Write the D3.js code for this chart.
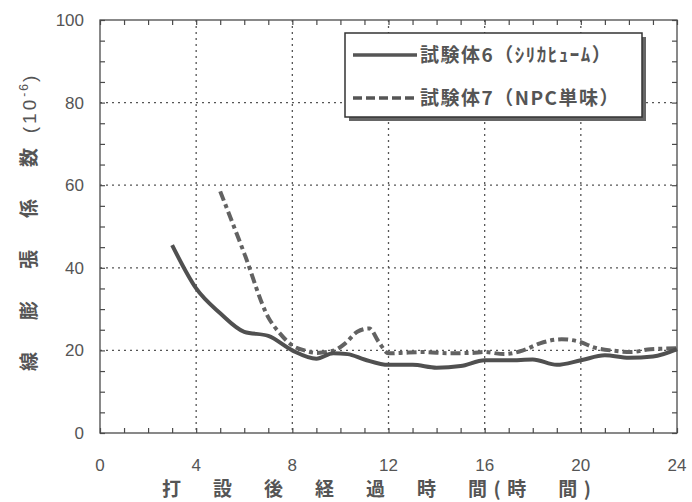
<!DOCTYPE html>
<html>
<head>
<meta charset="utf-8">
<script src="https://d3js.org/d3.v7.min.js"></script>
<style>
body { margin: 0; background: #fff; }
svg { display: block; }
.tick-label { font-family: "Liberation Sans", Arial, sans-serif; font-size: 17px; fill: #555; }
.jp { font-family: "Noto Sans CJK JP", sans-serif; fill: #555; font-weight: bold; }
</style>
</head>
<body>
<svg id="chart" width="692" height="502"></svg>
<script>
// hours after casting
var s6Hours = [3, 4, 5, 6, 7, 8, 9, 9.7, 10.3, 11, 12, 13, 14, 15, 16, 17, 18, 19, 20, 21, 22, 23, 24];
var s6Values = [45.5, 35, 29, 24.5, 23.5, 20, 18, 19.3, 19.1, 17.8, 16.5, 16.5, 15.8, 16.2, 17.6, 17.6, 17.8, 16.5, 17.6, 18.8, 18.2, 18.5, 20.3];

var s7Hours = [5, 6, 7, 7.5, 8, 8.5, 9, 9.7, 10.2, 10.7, 11.2, 11.6, 12, 12.5, 13.5, 14.5, 15.5, 16, 16.8, 17.6, 18.3, 19.2, 20, 20.5, 21.4, 22.1, 22.9, 24];
var s7Values = [58.5, 43.5, 28, 24, 21.2, 20, 19.4, 19.9, 21.7, 24.5, 25.3, 22, 19.3, 19.4, 19.6, 19.3, 19.4, 19.6, 19.1, 20, 21.7, 22.7, 22, 20.8, 19.9, 19.6, 20.3, 20.5];

var seriesNames = ["試験体6（ｼﾘｶﾋｭｰﾑ）", "試験体7（NPC単味）"];
var xTicks = [0, 4, 8, 12, 16, 20, 24];
var yTicks = [0, 20, 40, 60, 80, 100];
var xTitle = "打　設　後　経　過　時　間(時　間)";
var yTitle = "線　膨　張　係　数";

var svg = d3.select("#chart");
var pLeft = 100, pRight = 677, pTop = 20, pBottom = 433;

var x = d3.scaleLinear().domain([0, 24]).range([pLeft, pRight]);
var y = d3.scaleLinear().domain([0, 100]).range([pBottom, pTop]);

var ink = "#4a4a4a";

// dotted grid
svg.selectAll(".gx").data(xTicks.slice(1, -1)).enter().append("line")
  .attr("x1", d => x(d)).attr("x2", d => x(d))
  .attr("y1", pTop).attr("y2", pBottom)
  .attr("stroke", "#555").attr("stroke-width", 1.3).attr("stroke-dasharray", "2,4");
svg.selectAll(".gy").data(yTicks.slice(1, -1)).enter().append("line")
  .attr("x1", pLeft).attr("x2", pRight)
  .attr("y1", d => y(d)).attr("y2", d => y(d))
  .attr("stroke", "#555").attr("stroke-width", 1.3).attr("stroke-dasharray", "2,4");

// axes: ticks point inward, on all four sides
var xb = d3.axisBottom(x).tickValues(d3.range(0, 25, 1)).tickSize(-5).tickFormat("");
var xt = d3.axisTop(x).tickValues(d3.range(0, 25, 1)).tickSize(-5).tickFormat("");
var yl = d3.axisLeft(y).tickValues(d3.range(0, 101, 5)).tickSize(-5).tickFormat("");
var yr = d3.axisRight(y).tickValues(d3.range(0, 101, 5)).tickSize(-5).tickFormat("");
svg.append("g").attr("transform", "translate(0," + pBottom + ")").call(xb);
svg.append("g").attr("transform", "translate(0," + pTop + ")").call(xt);
svg.append("g").attr("transform", "translate(" + pLeft + ",0)").call(yl);
svg.append("g").attr("transform", "translate(" + pRight + ",0)").call(yr);
svg.selectAll(".domain").remove();
svg.selectAll(".tick line").attr("stroke", ink).attr("stroke-width", 1.2);

svg.append("rect")
  .attr("x", pLeft).attr("y", pTop)
  .attr("width", pRight - pLeft).attr("height", pBottom - pTop)
  .attr("fill", "none").attr("stroke", ink).attr("stroke-width", 1.3);

// tick labels
svg.selectAll(".xlab").data(xTicks).enter().append("text")
  .attr("class", "tick-label")
  .attr("x", d => x(d)).attr("y", 471)
  .attr("text-anchor", "middle")
  .text(d => d);
svg.selectAll(".ylab").data(yTicks).enter().append("text")
  .attr("class", "tick-label")
  .attr("x", 84).attr("y", d => y(d) + 6)
  .attr("text-anchor", "end")
  .text(d => d);

// curves
var line = d3.line().x(d => x(d[0])).y(d => y(d[1])).curve(d3.curveMonotoneX);

svg.append("path")
  .datum(d3.zip(s7Hours, s7Values))
  .attr("d", line)
  .attr("fill", "none").attr("stroke", "#626262").attr("stroke-width", 4)
  .attr("stroke-dasharray", "10,4,4,4");

svg.append("path")
  .datum(d3.zip(s6Hours, s6Values))
  .attr("d", line)
  .attr("fill", "none").attr("stroke", "#505050").attr("stroke-width", 4);

// legend
var lg = svg.append("g");
lg.append("rect").attr("x", 349).attr("y", 37).attr("width", 297).attr("height", 84).attr("fill", "#666");
lg.append("rect").attr("x", 345).attr("y", 33).attr("width", 297).attr("height", 84)
  .attr("fill", "#fff").attr("stroke", "#333").attr("stroke-width", 1.5);

var dashes = [null, "9,4"];
seriesNames.forEach(function (name, i) {
  var ly = 55 + i * 43;
  lg.append("line")
    .attr("x1", 353).attr("x2", 417).attr("y1", ly).attr("y2", ly)
    .attr("stroke", "#555").attr("stroke-width", 3.5)
    .attr("stroke-dasharray", dashes[i]);
  lg.append("text")
    .attr("class", "jp")
    .attr("x", 420).attr("y", ly + 7)
    .attr("font-size", 19)
    .attr("letter-spacing", 1.5)
    .text(name);
});

// axis titles
svg.append("text")
  .attr("class", "jp")
  .attr("x", 162).attr("y", 496)
  .attr("font-size", 19)
  .attr("letter-spacing", 6.5)
  .text(xTitle);

var yt = svg.append("text")
  .attr("class", "jp")
  .attr("transform", "translate(36,0) rotate(-90)")
  .attr("x", -371).attr("y", 0)
  .attr("font-size", 19)
  .attr("letter-spacing", 6.5);
yt.append("tspan").text(yTitle);
yt.append("tspan").attr("font-family", "Liberation Sans, sans-serif").attr("font-weight", "normal")
  .attr("letter-spacing", 3).text(" (10");
yt.append("tspan").attr("font-family", "Liberation Sans, sans-serif").attr("font-weight", "normal")
  .attr("font-size", 12).attr("dy", -8).attr("letter-spacing", 2).text("-6");
yt.append("tspan").attr("font-family", "Liberation Sans, sans-serif").attr("font-weight", "normal")
  .attr("dy", 8).text(")");
</script>
</body>
</html>
